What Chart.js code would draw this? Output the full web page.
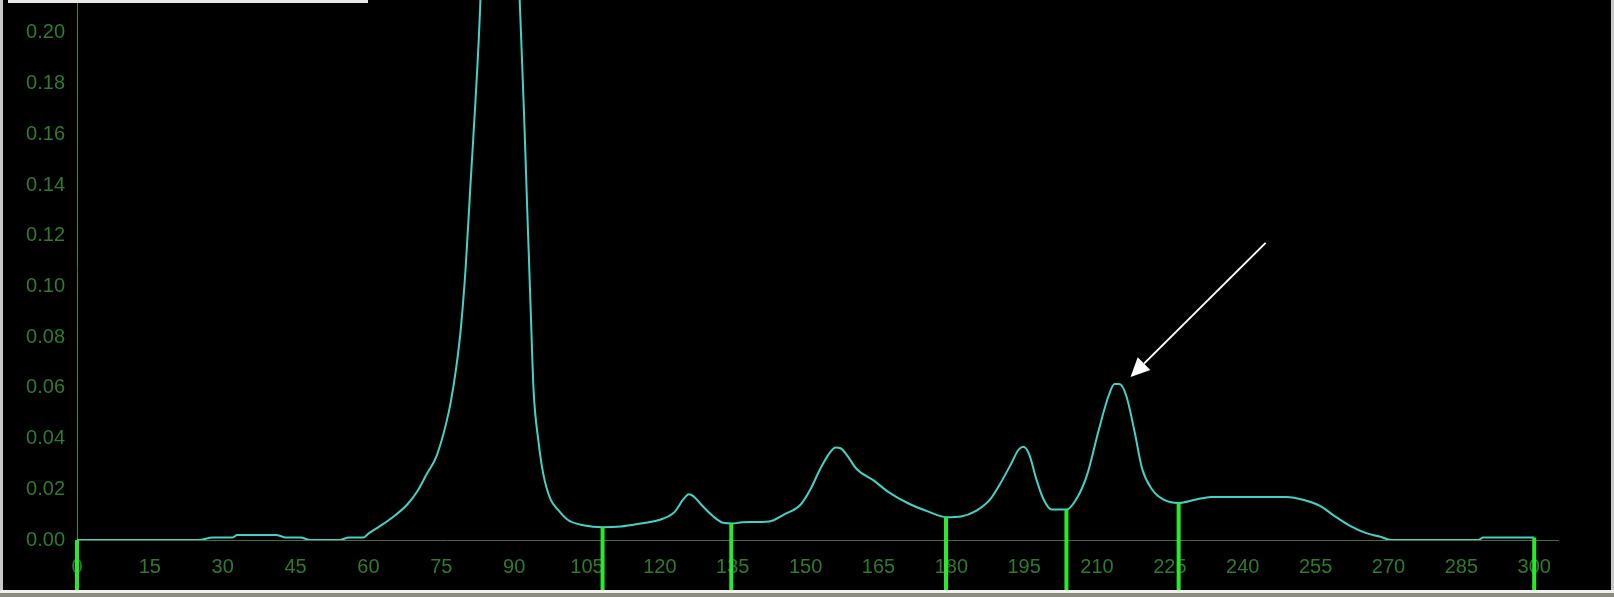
<!DOCTYPE html>
<html>
<head>
<meta charset="utf-8">
<script src="https://cdn.jsdelivr.net/npm/chart.js@4.4.1/dist/chart.umd.min.js"></script>
<style>
  html, body { margin: 0; padding: 0; background: #000; }
  #wrap { width: 1614px; height: 597px; }
</style>
</head>
<body>
<div id="wrap"><canvas id="profileChart" width="1614" height="597"></canvas></div>
<script>
// trace: position and absorbance
const traceX = [0, 25, 28, 32, 33, 41, 43, 46, 48, 54, 56, 59, 60, 62, 65, 68, 70, 72, 74, 76, 77, 78, 79, 80, 81, 82, 83, 84, 85, 86.5, 88, 89.5, 91, 92, 92.7, 93.4, 94, 95, 96, 97.5, 99, 101, 104.5, 108.2, 112, 116, 120, 123, 124.8, 126, 127.2, 128.5, 131, 133, 135, 137, 142.5, 145.5, 149, 151, 153, 155, 156.2, 157.2, 158.5, 160.5, 164, 167, 171, 175, 179, 182, 185, 188, 190, 192.3, 193.8, 194.8, 196, 197.5, 199, 200.7, 203.7, 206, 208, 210.3, 212.4, 213.6, 214.6, 216, 217.7, 219.3, 221.3, 223.6, 226.8, 230.4, 233.5, 249, 252.6, 256, 259, 262, 265.3, 268.5, 270.5, 288.5, 289.5, 300];
const traceY = [0, 0, 0.001, 0.001, 0.002, 0.002, 0.001, 0.001, 0, 0, 0.001, 0.001, 0.0025, 0.005, 0.009, 0.014, 0.019, 0.026, 0.033, 0.046, 0.055, 0.067, 0.083, 0.107, 0.14, 0.172, 0.21, 0.27, 0.31, 0.33, 0.32, 0.29, 0.22, 0.17, 0.13, 0.091, 0.059, 0.039, 0.026, 0.016, 0.012, 0.008, 0.0057, 0.005, 0.0053, 0.0065, 0.008, 0.011, 0.016, 0.018, 0.0168, 0.014, 0.0093, 0.0068, 0.0065, 0.007, 0.0073, 0.010, 0.014, 0.020, 0.028, 0.0345, 0.0365, 0.0362, 0.0335, 0.028, 0.0235, 0.019, 0.0146, 0.0114, 0.009, 0.0093, 0.0114, 0.016, 0.022, 0.030, 0.0355, 0.0368, 0.034, 0.024, 0.016, 0.012, 0.012, 0.017, 0.026, 0.043, 0.057, 0.0615, 0.0615, 0.057, 0.043, 0.028, 0.020, 0.016, 0.0146, 0.016, 0.017, 0.017, 0.0158, 0.0134, 0.0093, 0.0057, 0.0028, 0.0012, 0, 0, 0.001, 0.001];

// fraction cut markers (green bars)
const markerX = [0, 108.2, 134.7, 178.9, 203.7, 226.8, 300];
const markerY = [0, 0.005, 0.0065, 0.009, 0.012, 0.0146, 0.001];

// axis ticks
const xTicks = [0, 15, 30, 45, 60, 75, 90, 105, 120, 135, 150, 165, 180, 195, 210, 225, 240, 255, 270, 285, 300];
const yTicks = [0, 0.02, 0.04, 0.06, 0.08, 0.10, 0.12, 0.14, 0.16, 0.18, 0.20];

// arrow pointing at the peak near 214
const arrowFrom = { x: 244.7, y: 0.1172 };
const arrowTo = { x: 216.9, y: 0.0643 };

const labelColor = '#2e7b2e';

const markersPlugin = {
    id: 'markers',
    afterDatasetsDraw(chart) {
        const c = chart.ctx;
        const xs = chart.scales.x, ys = chart.scales.y;
        c.save();
        c.strokeStyle = '#2ae82a';
        c.lineWidth = 4;
        markerX.forEach((mx, i) => {
            const px = xs.getPixelForValue(mx);
            c.beginPath();
            c.moveTo(px, ys.getPixelForValue(markerY[i]));
            c.lineTo(px, chart.height);
            c.stroke();
        });
        // arrow
        const x1 = xs.getPixelForValue(arrowFrom.x), y1 = ys.getPixelForValue(arrowFrom.y);
        const x2 = xs.getPixelForValue(arrowTo.x), y2 = ys.getPixelForValue(arrowTo.y);
        const ang = Math.atan2(y2 - y1, x2 - x1);
        const head = 19, wid = 9;
        const bx = x2 - head * Math.cos(ang), by = y2 - head * Math.sin(ang);
        c.strokeStyle = '#ffffff';
        c.fillStyle = '#ffffff';
        c.lineWidth = 2;
        c.beginPath();
        c.moveTo(x1, y1);
        c.lineTo(bx, by);
        c.stroke();
        c.beginPath();
        c.moveTo(x2, y2);
        c.lineTo(bx + wid * Math.sin(ang), by - wid * Math.cos(ang));
        c.lineTo(bx - wid * Math.sin(ang), by + wid * Math.cos(ang));
        c.closePath();
        c.fill();
        c.restore();
    },
    afterDraw(chart) {
        const c = chart.ctx;
        const w = chart.width, h = chart.height;
        c.save();
        // cut-off legend box at top left
        c.fillStyle = '#e8e8e8';
        c.fillRect(8, 0, 360, 3);
        // window frame
        c.fillStyle = '#c8c8c8';
        c.fillRect(0, 0, 3, h);
        c.fillRect(w - 3, 0, 3, h);
        c.fillStyle = '#f0f0f0';
        c.fillRect(0, h - 7, w, 3);
        c.fillStyle = '#8a8a80';
        c.fillRect(0, h - 4, w, 4);
        c.restore();
    }
};

const ctx = document.getElementById('profileChart').getContext('2d');
const profileChart = new Chart(ctx, {
    type: 'line',
    data: {
        datasets: [{
            label: 'Absorbance',
            data: traceX.map((x, i) => ({ x: x, y: traceY[i] })),
            borderColor: '#45d2c6',
            borderWidth: 2,
            pointRadius: 0,
            fill: false,
            cubicInterpolationMode: 'monotone'
        }]
    },
    options: {
        responsive: false,
        animation: false,
        layout: { padding: { left: 0, right: 56, top: 0, bottom: 0 } },
        plugins: {
            legend: { display: false },
            tooltip: { enabled: false }
        },
        scales: {
            x: {
                type: 'linear',
                min: 0,
                max: 304.9,
                grid: { display: false, drawTicks: false },
                border: { display: true, color: '#4a6a36', width: 1 },
                ticks: {
                    color: labelColor,
                    padding: 15,
                    font: { family: 'Liberation Sans, Arial, sans-serif', size: 20 },
                    callback: (v) => String(v)
                },
                afterBuildTicks: (axis) => { axis.ticks = xTicks.map(v => ({ value: v })); },
                afterFit: (axis) => {
                    axis.height = 57;
                    axis.paddingLeft = 0;
                    axis.paddingRight = 0;
                }
            },
            y: {
                min: 0,
                max: 0.213,
                grid: { display: false, drawTicks: false },
                border: { display: true, color: '#2f8a4a', width: 1 },
                ticks: {
                    color: labelColor,
                    padding: 12,
                    font: { family: 'Liberation Sans, Arial, sans-serif', size: 20 },
                    callback: (v) => v.toFixed(2)
                },
                afterBuildTicks: (axis) => { axis.ticks = yTicks.map(v => ({ value: v })); },
                afterFit: (axis) => {
                    axis.width = 77;
                    axis.paddingTop = 0;
                    axis.paddingBottom = 0;
                }
            }
        }
    },
    plugins: [markersPlugin]
});
</script>
</body>
</html>
